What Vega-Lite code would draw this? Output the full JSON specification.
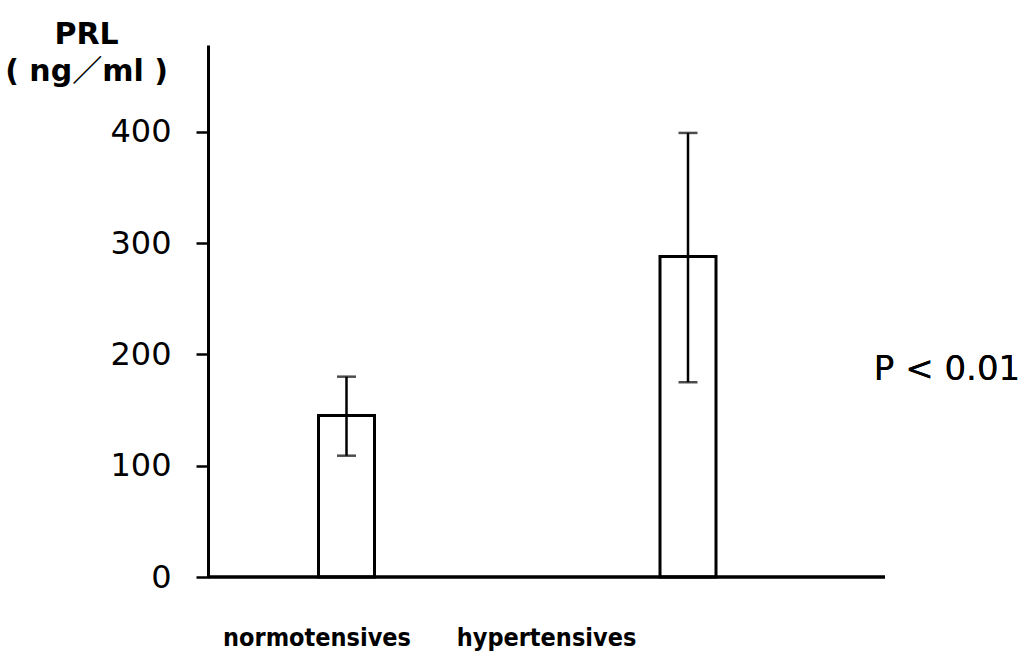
{
  "$schema": "https://vega.github.io/schema/vega-lite/v6.json",
  "width": 677,
  "height": 532,
  "autosize": {"type": "none"},
  "padding": {"left": 208, "top": 45, "right": 147, "bottom": 87},
  "background": "white",
  "config": {"view": {"stroke": null}},
  "data": {
    "values": [
      {"group": "normotensives", "mean": 145, "lo": 109, "hi": 180},
      {"group": "hypertensives", "mean": 288, "lo": 175, "hi": 399}
    ]
  },
  "layer": [
    {
      "mark": {"type": "bar", "fill": "white", "stroke": "black", "strokeWidth": 3, "size": 56},
      "encoding": {
        "x": {
          "field": "group",
          "type": "nominal",
          "sort": ["normotensives", "hypertensives"],
          "scale": {"type": "point", "range": [138.5, 480], "padding": 0},
          "axis": {
            "title": null,
            "domain": false,
            "ticks": false,
            "labelAngle": 0,
            "labelLimit": 0,
            "labelFont": "DejaVu Sans Condensed, Liberation Sans Narrow, DejaVu Sans",
            "labelFontWeight": "bold",
            "labelFontSize": 25,
            "labelColor": "black",
            "labelPadding": 48,
            "labelOffset": {"condition": {"test": "datum.value === 'hypertensives'", "value": -142}, "value": -30}
          }
        },
        "y": {
          "field": "mean",
          "type": "quantitative",
          "scale": {"domain": [0, 478], "nice": false},
          "axis": {
            "values": [0, 100, 200, 300, 400],
            "grid": false,
            "domainColor": "black",
            "domainWidth": 3,
            "tickColor": "black",
            "tickWidth": 2.5,
            "tickSize": 12,
            "labelFont": "DejaVu Sans",
            "labelFontSize": 32,
            "labelColor": "black",
            "labelPadding": 25,
            "title": ["PRL", "( ng／ml )"],
            "titleAngle": 0,
            "titleAlign": "center",
            "titleBaseline": "alphabetic",
            "titleX": -122,
            "titleY": -2,
            "titleFont": "DejaVu Sans, Noto Sans CJK JP",
            "titleFontWeight": "bold",
            "titleFontSize": 30,
            "titleLineHeight": 37,
            "titleColor": "black"
          }
        }
      }
    },
    {
      "mark": {"type": "rule", "stroke": "black", "strokeWidth": 2.5},
      "encoding": {
        "x": {"field": "group", "type": "nominal", "sort": ["normotensives", "hypertensives"]},
        "y": {"field": "lo", "type": "quantitative"},
        "y2": {"field": "hi"}
      }
    },
    {
      "mark": {"type": "tick", "color": "black", "thickness": 2.5, "size": 19, "orient": "horizontal"},
      "encoding": {
        "x": {"field": "group", "type": "nominal", "sort": ["normotensives", "hypertensives"]},
        "y": {"field": "lo", "type": "quantitative"}
      }
    },
    {
      "mark": {"type": "tick", "color": "black", "thickness": 2.5, "size": 19, "orient": "horizontal"},
      "encoding": {
        "x": {"field": "group", "type": "nominal", "sort": ["normotensives", "hypertensives"]},
        "y": {"field": "hi", "type": "quantitative"}
      }
    },
    {
      "mark": {"type": "rule", "stroke": "black", "strokeWidth": 3},
      "encoding": {"y": {"datum": 0}}
    },
    {
      "mark": {"type": "text", "text": "P < 0.01", "font": "DejaVu Sans", "fontSize": 34, "align": "center", "baseline": "middle", "color": "black"},
      "encoding": {"x": {"value": 739}, "y": {"datum": 186}}
    }
  ]
}
